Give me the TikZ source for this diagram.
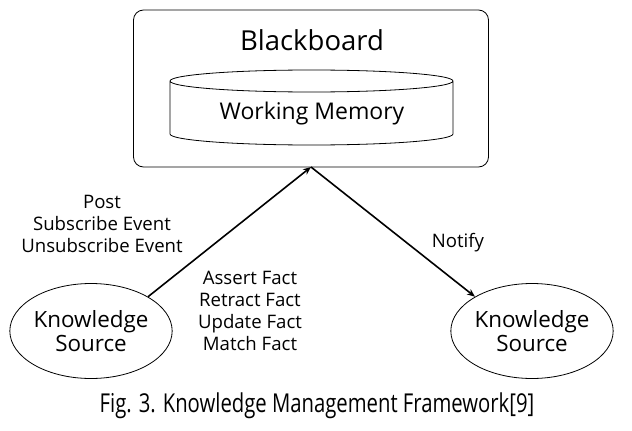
\documentclass[tikz,border=0pt]{standalone}
\usepackage{fontspec}
\setmainfont{Open Sans}
\newfontfamily\capfont{Open Sans}[FakeStretch=0.78]
\usetikzlibrary{shapes.geometric,arrows.meta}
\begin{document}
\begin{tikzpicture}[x=1pt,y=-1pt,
  ks/.style={draw,ellipse,line width=0.8pt,minimum width=160pt,minimum height=95pt,inner sep=0pt,align=center,font=\fontsize{22.4}{26}\selectfont},
  lbl/.style={align=center,font=\fontsize{18.6}{22}\selectfont,inner sep=0pt},
  conn/.style={line width=1.6pt,-{Stealth[length=8pt,width=6.5pt]}}]
\useasboundingbox (0,0) rectangle (632,431);
\fill[white] (0,0) rectangle (632,431);
% Blackboard box
\node[draw,rounded corners=10pt,line width=0.8pt,minimum width=355pt,minimum height=157pt,inner sep=0pt] (bb) at (311,88.5) {};
\node[font=\fontsize{27.5}{32}\selectfont,inner sep=0pt] (bbt) at (312,40) {Blackboard};
% Working memory cylinder
\draw[line width=0.8pt] (170,81) arc[start angle=180,end angle=360,x radius=141.5pt,y radius=11pt]
  arc[start angle=0,end angle=180,x radius=141.5pt,y radius=11pt] -- (170,134)
  arc[start angle=180,end angle=360,x radius=141.5pt,y radius=11pt] -- (453,81);
\node[font=\fontsize{23}{27}\selectfont,inner sep=0pt] (wm) at (312,114) {Working Memory};
% Knowledge sources
\node[ks] (ks1) at (91,331) {Knowledge\\[-2pt]Source};
\node[ks] (ks2) at (532,331) {Knowledge\\[-2pt]Source};
\coordinate (bbb) at (311,167);
\draw[conn] (ks1.31) -- (bbb);
\draw[conn] (bbb) -- (ks2.149);
% labels
\node[lbl] (l1) at (102,224) {Post\\Subscribe Event\\Unsubscribe Event};
\node[lbl] (l2) at (250,310.5) {Assert Fact\\Retract Fact\\Update Fact\\Match Fact};
\node[lbl] (l3) at (458,243) {Notify};
% caption
\node[font=\capfont\fontsize{26}{30}\selectfont,inner sep=0pt] (cap) at (317,406) {Fig. 3. Knowledge Management Framework[9]};
\end{tikzpicture}
\end{document}
